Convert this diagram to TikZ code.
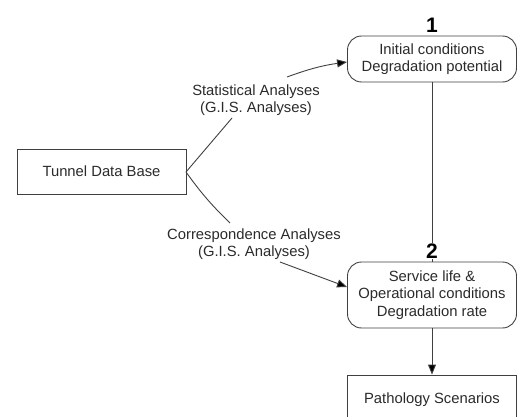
\documentclass[tikz,border=0pt]{standalone}
\usepackage{fontspec}
\setmainfont{Liberation Sans}
\usetikzlibrary{arrows.meta}
\definecolor{ink}{HTML}{2A2A2A}
\definecolor{edge}{HTML}{404040}
\begin{document}
\begin{tikzpicture}[x=1pt,y=1pt,
  txt/.style={font=\fontsize{14.8}{17.5}\selectfont, text=ink, align=center},
  boxnode/.style={txt, draw=edge, line width=0.9pt, minimum width=169pt, inner sep=0pt},
  roundnode/.style={boxnode, rounded corners=14pt},
  numlab/.style={font=\fontsize{21}{21}\selectfont\bfseries, text=black, inner sep=0pt},
  conn/.style={draw=edge, line width=0.9pt},
  arr/.style={conn, -{Triangle[length=10pt,width=8pt,fill=black]}}
]
\useasboundingbox (0,0) rectangle (517,416);
\clip (0,0) rectangle (517,416);

\node[boxnode, minimum height=45pt] (tdb) at (101.5,244.5) {Tunnel Data Base};
\node[roundnode, minimum height=46pt] (n1) at (432,357) {Initial conditions\\Degradation potential};
\node[roundnode, minimum height=66pt] (n2) at (432,121) {Service life \&\\Operational conditions\\Degradation rate};
\node[boxnode, minimum height=48pt] (n3) at (432,17) {};
\node[txt] (n3t) at (432,16) {Pathology Scenarios};

\node[txt] (lab1) at (256,316) {Statistical Analyses\\(G.I.S. Analyses)};
\node[txt] (lab2) at (254,172) {Correspondence Analyses\\(G.I.S. Analyses)};

\coordinate (s1a) at (232,298);
\coordinate (s1b) at (287,339);
\coordinate (s2a) at (230,193);
\coordinate (s2b) at (280,154);
\coordinate (tdbr) at (186,244);

\draw[conn] (n1.south) -- (n2.north);
\node[numlab, fill=white, inner sep=1pt] (one) at (432,391) {1};
\node[numlab, fill=white, inner sep=1pt] (two) at (432,165) {2};

\draw[conn] (tdbr) -- (s1a);
\draw[arr] (s1b) to[bend left=6] ([yshift=-3pt]n1.west);
\draw[conn] (tdbr) to[bend right=5] (s2a);
\draw[arr] (s2b) -- ([yshift=8pt]n2.west);
\draw[arr] (n2.south) -- (n3.north);
\end{tikzpicture}
\end{document}
